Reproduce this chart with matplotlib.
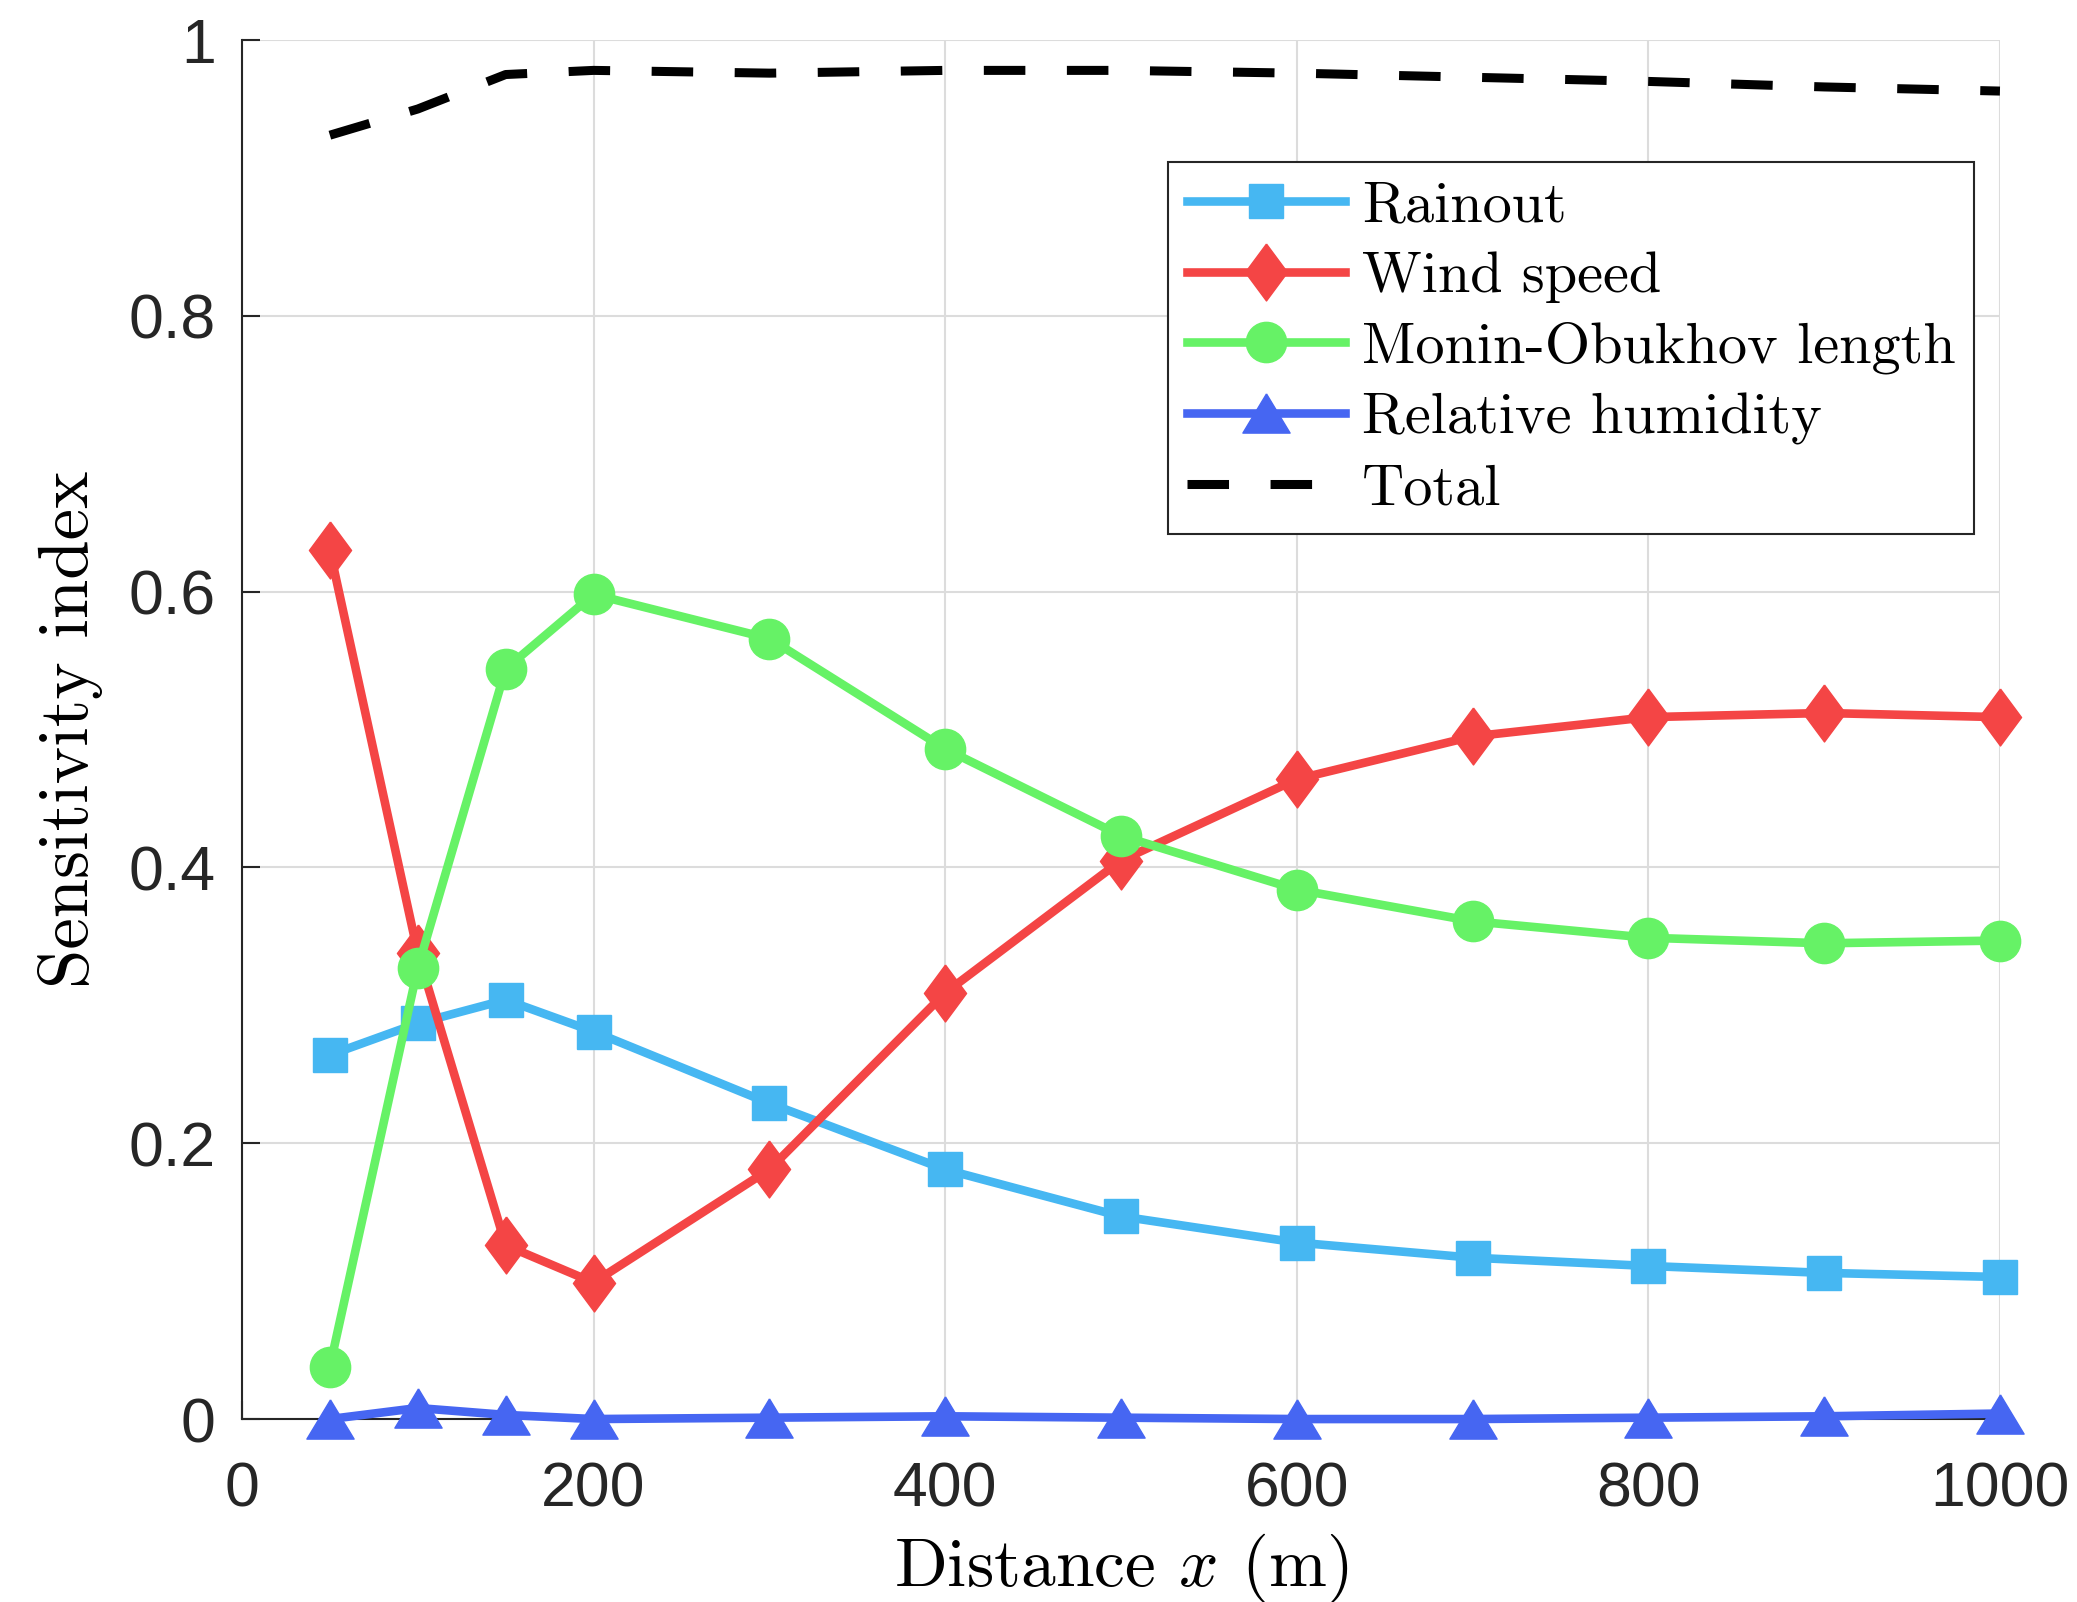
import numpy as np
import matplotlib
matplotlib.use("Agg")
import matplotlib.pyplot as plt


# ============================================================
# DATA
# ============================================================

distance = [50, 100, 150, 200, 300, 400, 500, 600, 700, 800, 900, 1000]

rainout = [0.264, 0.287, 0.304, 0.281, 0.229, 0.181,
           0.147, 0.128, 0.117, 0.111, 0.106, 0.103]

wind_speed = [0.630, 0.338, 0.126, 0.099, 0.181, 0.309,
              0.405, 0.464, 0.495, 0.509, 0.512, 0.509]

monin_obukhov = [0.038, 0.327, 0.544, 0.598, 0.566, 0.486,
                 0.423, 0.384, 0.361, 0.349, 0.345, 0.347]

rel_humidity = [0.000, 0.008, 0.003, 0.000, 0.001, 0.002,
                0.001, 0.000, 0.000, 0.001, 0.002, 0.004]

total = [0.931, 0.950, 0.975, 0.978, 0.976, 0.978,
         0.978, 0.976, 0.973, 0.970, 0.966, 0.963]

series_labels = ["Rainout", "Wind speed", "Monin-Obukhov length",
                 "Relative humidity", "Total"]

x_ticks = [0, 200, 400, 600, 800, 1000]
y_ticks = [0, 0.2, 0.4, 0.6, 0.8, 1.0]
y_tick_labels = ["0", "0.2", "0.4", "0.6", "0.8", "1"]


# ============================================================
# STYLE
# ============================================================

plt.rcParams["mathtext.fontset"] = "cm"
plt.rcParams["axes.unicode_minus"] = False

C_RAIN = "#46B7F2"
C_WIND = "#F44545"
C_MONIN = "#66F266"
C_HUM = "#4666F2"
AX_COL = "#262626"

# MATLAB style markers (diamond taller than wide, triangle wider than tall)
diamond = [(0, 1), (0.74, 0), (0, -1), (-0.74, 0), (0, 1)]
triangle = [(0, 0.83), (-1, -0.83), (1, -0.83), (0, 0.83)]

LW = 6.2
TEXT_FONT = "cmr10"


# ============================================================
# FIGURE
# ============================================================

fig = plt.figure(figsize=(20.77, 16.02), dpi=100)
ax = fig.add_axes([0.1165, 0.1142, 0.8464, 0.8608])

ax.plot(distance, rainout, color=C_RAIN, lw=LW,
        marker="s", ms=24, mec=C_RAIN, mfc=C_RAIN,
        clip_on=False, zorder=3, label=series_labels[0])

ax.plot(distance, wind_speed, color=C_WIND, lw=LW,
        marker=diamond, ms=41, mec=C_WIND, mfc=C_WIND,
        clip_on=False, zorder=3, label=series_labels[1])

ax.plot(distance, monin_obukhov, color=C_MONIN, lw=LW,
        marker="o", ms=29, mec=C_MONIN, mfc=C_MONIN,
        clip_on=False, zorder=4, label=series_labels[2])

ax.plot(distance, rel_humidity, color=C_HUM, lw=LW,
        marker=triangle, ms=34, mec=C_HUM, mfc=C_HUM,
        clip_on=False, zorder=3, label=series_labels[3])

ax.plot(distance, total, color="black", lw=6.5,
        dashes=(4.6, 4.6), dash_capstyle="butt",
        clip_on=False, zorder=3, label=series_labels[4])


# ============================================================
# AXES
# ============================================================

ax.set_xlim(0, 1000)
ax.set_ylim(0, 1)

ax.set_xticks(x_ticks)
ax.set_yticks(y_ticks)
ax.set_yticklabels(y_tick_labels)

for lab in ax.get_xticklabels() + ax.get_yticklabels():
    lab.set_fontfamily("Liberation Sans")

ax.tick_params(axis="both", direction="in", length=13, width=1.5,
               colors=AX_COL, labelsize=45)
ax.tick_params(axis="x", pad=30)
ax.tick_params(axis="y", pad=19)

ax.spines["top"].set_visible(False)
ax.spines["right"].set_visible(False)
for s in ["left", "bottom"]:
    ax.spines[s].set_color(AX_COL)
    ax.spines[s].set_linewidth(1.5)

ax.grid(True, color="#DCDCDC", lw=1.5)
ax.set_axisbelow(True)

ax.set_xlabel(r"Distance $x$ (m)", fontfamily=TEXT_FONT,
              fontsize=50, color="black")
ax.xaxis.set_label_coords(0.5, -0.082)
ax.xaxis.label.set_verticalalignment("top")

ax.set_ylabel("Sensitivity index", fontfamily=TEXT_FONT,
              fontsize=51, color="black")
ax.yaxis.set_label_coords(-0.079, 0.5)


# ============================================================
# LEGEND
# ============================================================

leg = ax.legend(loc="upper left", bbox_to_anchor=(0.527, 0.9115),
                borderaxespad=0, fancybox=False, framealpha=1,
                edgecolor=AX_COL, prop={"family": TEXT_FONT, "size": 42},
                handlelength=2.7, handletextpad=0.3, labelspacing=0.32,
                borderpad=0.32)
leg.get_frame().set_linewidth(1.5)

fig.savefig("out.png", dpi=100)
